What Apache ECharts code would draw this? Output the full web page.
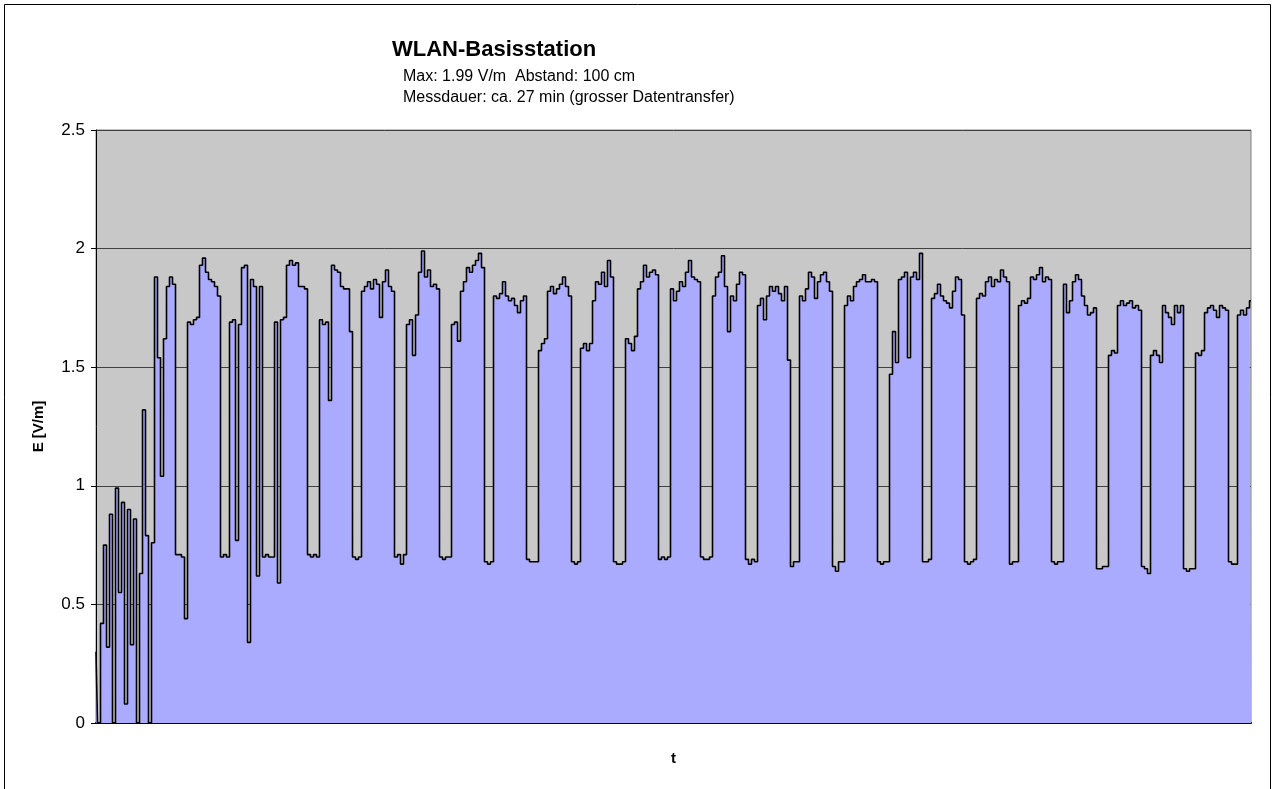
<!DOCTYPE html>
<html>
<head>
<meta charset="utf-8">
<title>WLAN-Basisstation</title>
<script src="https://cdn.jsdelivr.net/npm/echarts@6/dist/echarts.min.js"></script>
<style>
  html, body { margin: 0; padding: 0; background: #fff; }
  #chart { width: 1272px; height: 789px; }
</style>
</head>
<body>
<div id="chart"></div>
<script>
// Feldstaerke E [V/m], eine Messung etwa alle 4 s
var eAnlauf = [0.3, 0, 0.42, 0.75, 0.32, 0.88, 0, 0.99, 0.55, 0.93, 0.08, 0.9, 0.33, 0.86, 0, 0.63, 1.32, 0.79, 0, 0.76,
  1.88, 1.54, 1.04, 1.62, 1.84, 1.88, 1.85,
  0.71, 0.71, 0.70, 0.44];
var eTeil1 = [1.69, 1.68, 1.70, 1.71, 1.93, 1.96, 1.90, 1.87, 1.86, 1.84, 1.80,
  0.70, 0.71, 0.70,
  1.69, 1.70, 0.77, 1.68, 1.92, 1.93, 0.34, 1.87, 1.84, 0.62, 1.84,
  0.70, 0.71, 0.70, 0.70,
  1.69, 0.59, 1.70, 1.71, 1.93, 1.95, 1.93, 1.94, 1.84, 1.84, 1.83,
  0.71, 0.70, 0.71, 0.70,
  1.70, 1.68, 1.69, 1.36, 1.93, 1.91, 1.90, 1.84, 1.83, 1.83, 1.65,
  0.70, 0.69, 0.70,
  1.82, 1.84, 1.86, 1.83, 1.87, 1.85, 1.71, 1.86, 1.91, 1.84, 1.82,
  0.70, 0.71, 0.67, 0.71,
  1.68, 1.70, 1.55, 1.72, 1.90, 1.99, 1.88, 1.91, 1.84, 1.85, 1.83,
  0.70, 0.69, 0.70, 0.70,
  1.68, 1.69, 1.61, 1.82, 1.86, 1.92, 1.90, 1.93, 1.95, 1.98, 1.92,
  0.68, 0.67, 0.68];
var eTeil2 = [1.80, 1.79, 1.81, 1.86, 1.80, 1.78, 1.79, 1.76, 1.73, 1.78, 1.80,
  0.69, 0.68, 0.68, 0.68,
  1.57, 1.60, 1.62, 1.82, 1.84, 1.81, 1.83, 1.85, 1.88, 1.84, 1.80,
  0.68, 0.67, 0.68,
  1.58, 1.60, 1.57, 1.60, 1.78, 1.86, 1.85, 1.90, 1.84, 1.95, 1.88,
  0.68, 0.67, 0.67, 0.68,
  1.62, 1.60, 1.57, 1.63, 1.83, 1.86, 1.93, 1.88, 1.90, 1.91, 1.89,
  0.69, 0.70, 0.69, 0.70,
  1.83, 1.78, 1.82, 1.86, 1.84, 1.90, 1.95, 1.88, 1.87, 1.86,
  0.70, 0.69, 0.69, 0.70,
  1.80, 1.88, 1.90, 1.97, 1.84, 1.65, 1.80, 1.78, 1.85, 1.90, 1.89,
  0.69, 0.67, 0.69, 0.68,
  1.76, 1.79, 1.70, 1.80, 1.84, 1.82, 1.84, 1.81, 1.78, 1.84, 1.53,
  0.66, 0.68, 0.68,
  1.80, 1.78, 1.83, 1.90, 1.88, 1.79, 1.86, 1.89, 1.90, 1.86, 1.82,
  0.66, 0.64, 0.68, 0.68];
var eTeil3 = [1.76, 1.80, 1.78, 1.84, 1.86, 1.87, 1.89, 1.86, 1.86, 1.87, 1.86,
  0.68, 0.67, 0.68, 0.68,
  1.47, 1.65, 1.52, 1.87, 1.88, 1.90, 1.54, 1.88, 1.90, 1.87, 1.98,
  0.68, 0.68, 0.69,
  1.79, 1.81, 1.85, 1.80, 1.78, 1.77, 1.75, 1.82, 1.88, 1.87, 1.72,
  0.68, 0.67, 0.68, 0.69,
  1.79, 1.81, 1.80, 1.86, 1.88, 1.84, 1.87, 1.86, 1.91, 1.88, 1.86,
  0.67, 0.68, 0.68,
  1.76, 1.78, 1.77, 1.79, 1.88, 1.87, 1.89, 1.92, 1.86, 1.88, 1.87,
  0.68, 0.67, 0.68, 0.68,
  1.85, 1.73, 1.78, 1.86, 1.89, 1.87, 1.80, 1.76, 1.72, 1.73, 1.75,
  0.65, 0.65, 0.66, 0.66,
  1.55, 1.57, 1.56, 1.76, 1.78, 1.76, 1.77, 1.78, 1.75, 1.76, 1.74,
  0.66, 0.65, 0.63,
  1.55, 1.57, 1.55, 1.52, 1.76, 1.73, 1.71, 1.68, 1.76, 1.73, 1.76,
  0.65, 0.64, 0.65, 0.65,
  1.56, 1.55, 1.57, 1.73, 1.75, 1.76, 1.74, 1.71, 1.76, 1.75, 1.74,
  0.68, 0.67, 0.67,
  1.72, 1.74, 1.72, 1.75, 1.78];

var yTicks = [0, 0.5, 1, 1.5, 2, 2.5];
var titel = "WLAN-Basisstation";
var zeile1 = "Max: 1.99 V/m  Abstand: 100 cm";
var zeile2 = "Messdauer: ca. 27 min (grosser Datentransfer)";

var werte = eAnlauf.concat(eTeil1, eTeil2, eTeil3);
var zeit = werte.map(function (v, i) { return i; });

var chart = echarts.init(document.getElementById("chart"));
var font = "Liberation Sans, Arial, sans-serif";

chart.setOption({
  animation: false,
  backgroundColor: "#fff",
  textStyle: { fontFamily: font, color: "#000" },
  title: [
    { text: titel, left: 392, top: 39, padding: 0, textStyle: { fontSize: 22, fontWeight: "bold", fontFamily: font, color: "#000" } },
    { text: zeile1, left: 403, top: 69, padding: 0, textStyle: { fontSize: 16, fontWeight: "normal", fontFamily: font, color: "#000" } },
    { text: zeile2, left: 403, top: 90, padding: 0, textStyle: { fontSize: 16, fontWeight: "normal", fontFamily: font, color: "#000" } }
  ],
  graphic: [
    { type: "rect", shape: { x: 4.5, y: 4.5, width: 1266, height: 820 }, style: { fill: null, stroke: "#000", lineWidth: 1 }, silent: true }
  ],
  grid: {
    left: 96, top: 130, right: 21, bottom: 66,
    show: true, backgroundColor: "#c8c8c8", borderColor: "#808080", borderWidth: 1
  },
  xAxis: {
    type: "category",
    data: zeit,
    boundaryGap: false,
    name: "t",
    nameLocation: "middle",
    nameGap: 28,
    nameTextStyle: { fontSize: 15, fontWeight: "bold", color: "#000" },
    axisLine: { lineStyle: { color: "#000", width: 2 } },
    axisTick: { show: false },
    axisLabel: { show: false },
    splitLine: { show: false }
  },
  yAxis: {
    type: "value",
    min: yTicks[0],
    max: yTicks[yTicks.length - 1],
    interval: yTicks[1] - yTicks[0],
    name: "E [V/m]",
    nameLocation: "middle",
    nameGap: 50,
    nameTextStyle: { fontSize: 15, fontWeight: "bold", color: "#000" },
    axisLine: { show: true, lineStyle: { color: "#000", width: 1 } },
    axisTick: { show: true, length: 5, lineStyle: { color: "#000" } },
    axisLabel: { fontSize: 17, color: "#000", margin: 11 },
    splitLine: { show: true, lineStyle: { color: "#404040", width: 1 } }
  },
  series: [
    {
      name: "E",
      type: "line",
      data: werte,
      step: "middle",
      symbol: "none",
      sampling: null,
      lineStyle: { color: "#000", width: 1.6 },
      areaStyle: { color: "#aaaaff", opacity: 1 }
    }
  ]
});
</script>
</body>
</html>
